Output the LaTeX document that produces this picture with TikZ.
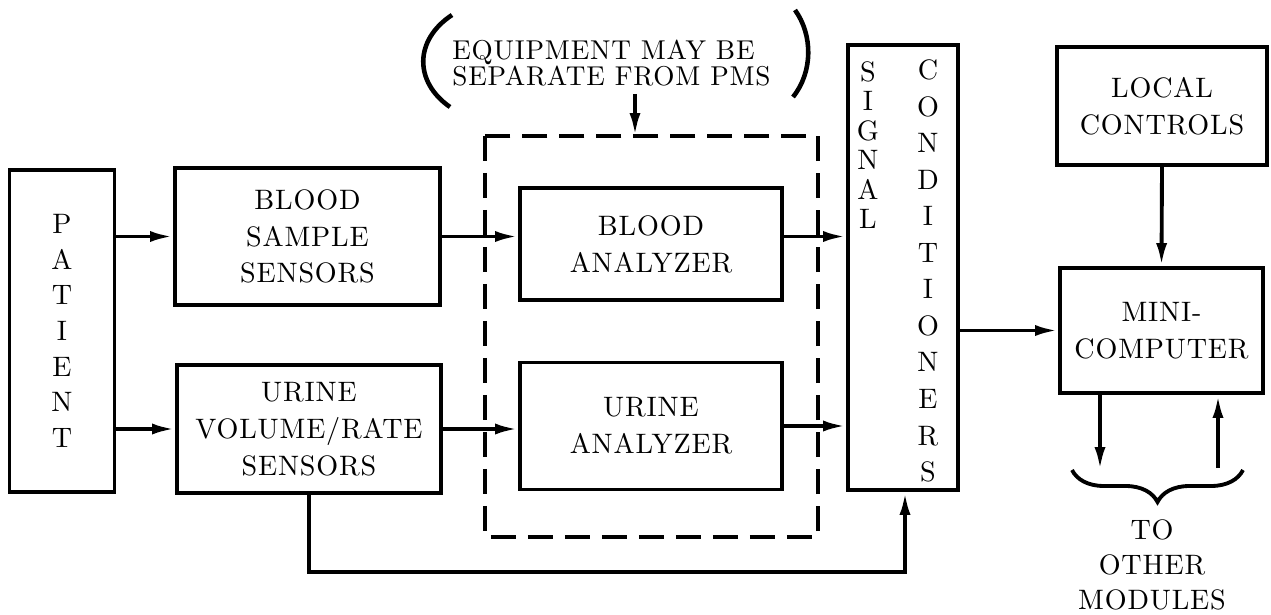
\documentclass[tikz,border=0pt]{standalone}
\usepackage{fontspec}
\usetikzlibrary{arrows.meta, decorations.pathreplacing}
\newfontfamily\diagfam{lmroman10-regular.otf}[LetterSpace=3]
\newcommand{\boxfont}{\diagfam\fontsize{16}{21}\selectfont}
\newcommand{\notefont}{\diagfam\fontsize{15.5}{14.5}\selectfont}
\tikzset{
    blk/.style={draw, line width=2.2pt, align=center, inner sep=0pt, font=\boxfont},
    col_text/.style={align=center, inner sep=0pt, font=\boxfont},
    flow/.style={-{Latex[length=0.46cm, width=0.22cm]}, line width=2.2pt},
    wire/.style={line width=2.2pt},
    sep_line/.style={line width=2.2pt, dash pattern=on 0.5cm off 0.24cm}
}
\begin{document}
\begin{tikzpicture}[x=0.02cm, y=-0.02cm]
    \useasboundingbox (0,0) rectangle (1271,615);
    % patient and sensors
    \node[blk, minimum width=2.1cm, minimum height=6.44cm,
        font={\boxfont\fontsize{16}{20.3}\selectfont}] (patient) at (62,331) {P\\A\\T\\I\\E\\N\\T};
    \node[blk, minimum width=5.3cm, minimum height=2.74cm] (bsens) at (307.5,236.5) {BLOOD\\SAMPLE\\SENSORS};
    \node[blk, minimum width=5.28cm, minimum height=2.56cm] (usens) at (309,429) {URINE\\VOLUME/RATE\\SENSORS};
    % analyzers
    \node[blk, minimum width=5.24cm, minimum height=2.24cm] (banal) at (651,244) {BLOOD\\ANALYZER};
    \node[blk, minimum width=5.24cm, minimum height=2.54cm] (uanal) at (651,426) {URINE\\ANALYZER};
    \coordinate (sepNW) at (485,136);
    \coordinate (sepSE) at (818,537);
    \draw[sep_line] (sepNW) rectangle (sepSE);
    % note
    \node[align=left, inner sep=0pt, anchor=west, font=\notefont] (note) at (452,63) {EQUIPMENT MAY BE\\SEPARATE FROM PMS};
    \draw[wire, line width=2.6pt] (452,15) .. controls (414,40) and (414,82) .. (450,107);
    \draw[wire, line width=2.6pt] (795,10) .. controls (813,35) and (813,72) .. (793,97);
    \coordinate (noteArrow) at (635,94);
    \draw[flow] (noteArrow) -- (noteArrow |- sepNW);
    % signal conditioners
    \node[blk, minimum width=2.2cm, minimum height=8.9cm] (sig) at (903,267.5) {};
    \node[col_text, font={\boxfont\fontsize{16}{16.8}\selectfont}] (sigA) at (868,145) {S\\I\\G\\N\\A\\L};
    \node[col_text, font={\boxfont\fontsize{16}{20.8}\selectfont}] (sigB) at (928,271) {C\\O\\N\\D\\I\\T\\I\\O\\N\\E\\R\\S};
    % computer side
    \node[blk, minimum width=4.2cm, minimum height=2.36cm] (lctl) at (1162,106) {LOCAL\\CONTROLS};
    \node[blk, minimum width=4.06cm, minimum height=2.5cm] (mini) at (1161.5,330.5) {MINI-\\COMPUTER};
    % connectors
    \draw[flow] (patient.east |- bsens.west) -- (bsens.west);
    \draw[flow] (patient.east |- usens.west) -- (usens.west);
    \draw[flow] (bsens.east) -- (bsens.east -| banal.west);
    \draw[flow] (usens.east) -- (usens.east -| uanal.west);
    \draw[flow] (banal.east |- bsens.east) -- (bsens.east -| sig.west);
    \draw[flow] (uanal.east) -- (uanal.east -| sig.west);
    \draw[flow] (sig.east |- mini.west) -- (mini.west);
    \draw[flow] (lctl.south) -- (mini.north);
    \coordinate (loop) at (905,572);
    \draw[flow] (usens.south) |- (loop) -- (loop |- sig.south);
    % other modules
    \coordinate (outA) at (1100,470);
    \coordinate (inA) at (1218,468);
    \draw[flow] (mini.south -| outA) -- (outA);
    \draw[flow] (inA) -- (mini.south -| inA);
    \coordinate (brL) at (1072,470);
    \coordinate (brR) at (1243,470);
    \draw[wire, decorate, decoration={brace, mirror, amplitude=0.64cm}] (brL) -- (brR);
    \node[col_text, font={\boxfont\fontsize{16}{19.8}\selectfont}] (mods) at (1152,565) {TO\\OTHER\\MODULES};
\end{tikzpicture}
\end{document}
